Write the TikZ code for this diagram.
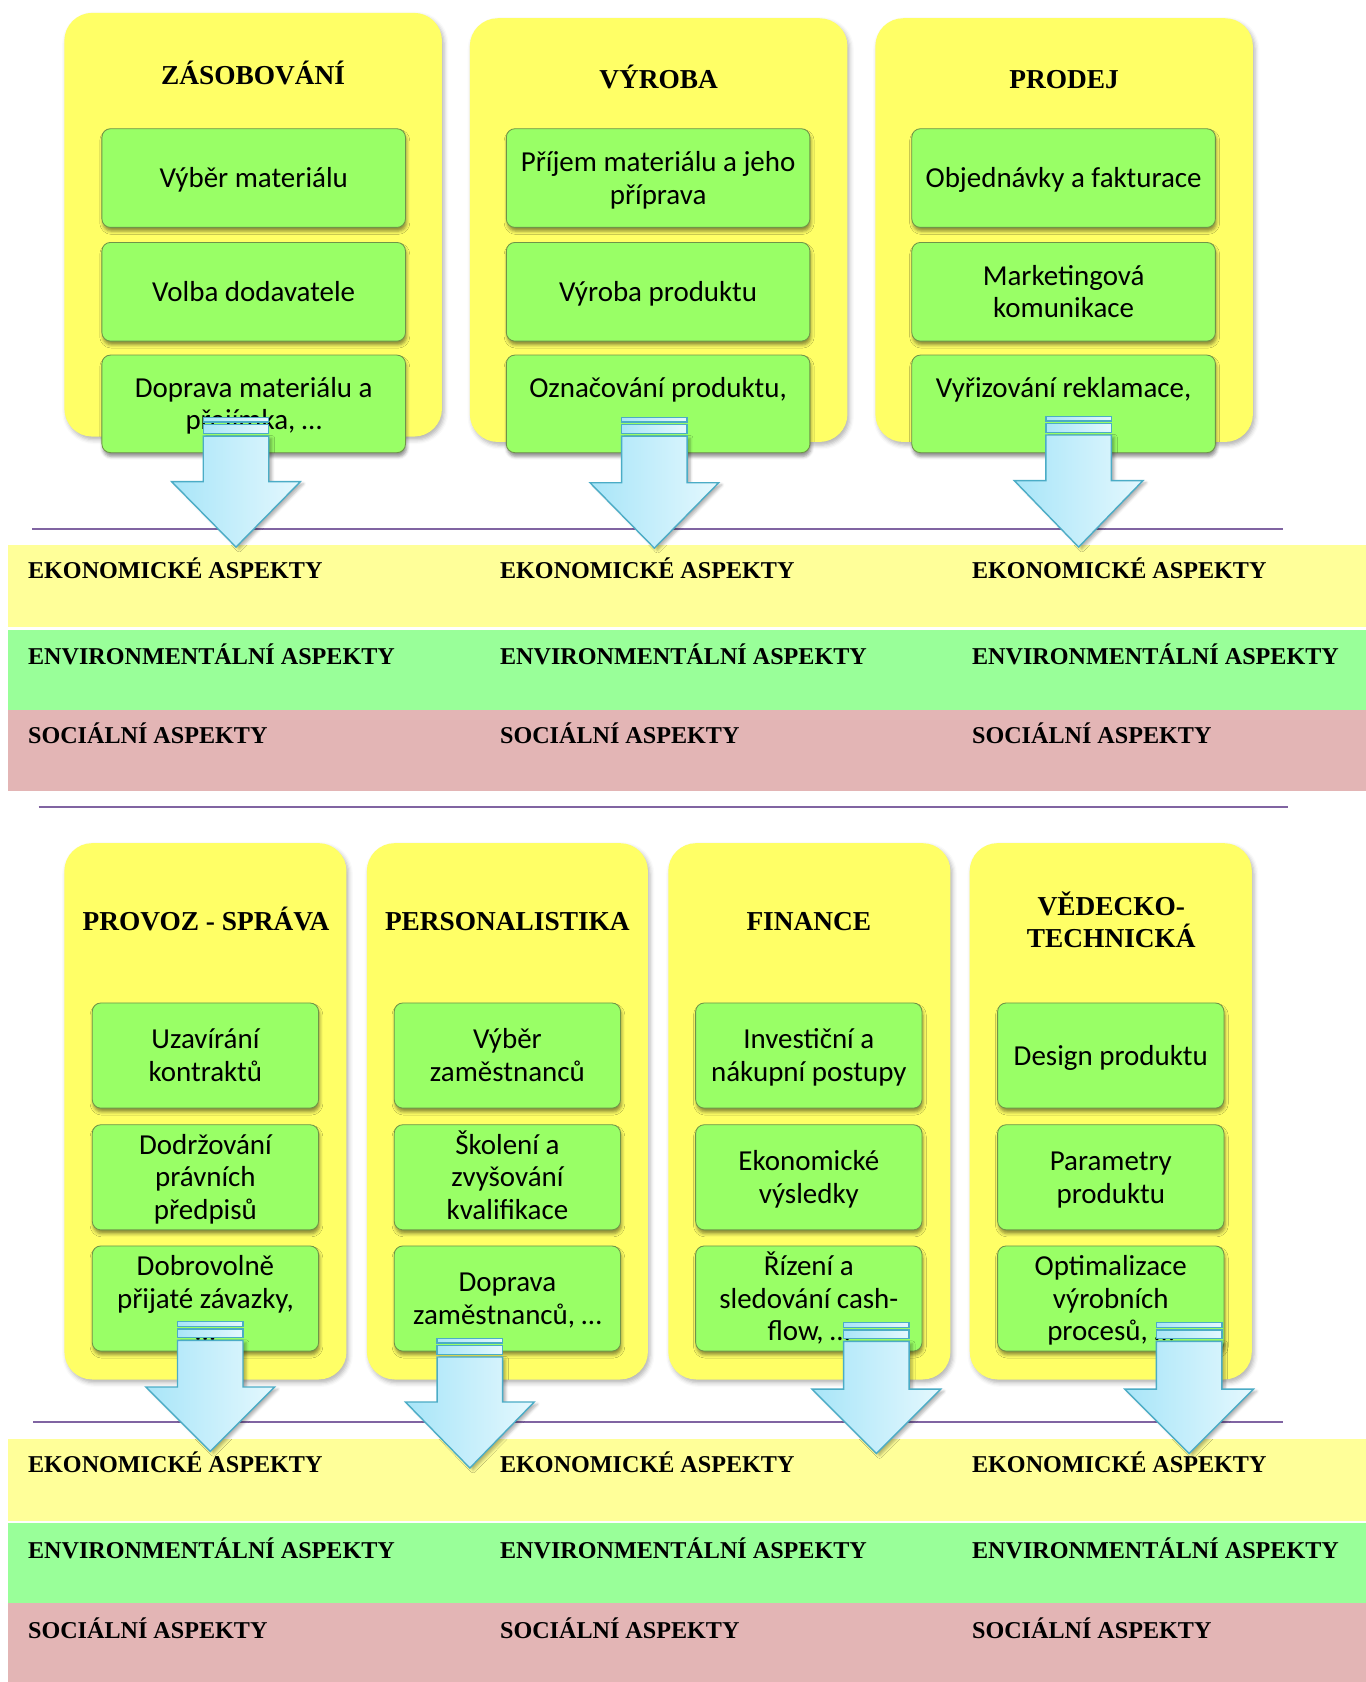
\documentclass[tikz,border=0pt]{standalone}
\usepackage{fontspec}
\setmainfont{Liberation Serif}
\newfontfamily\bodyfont{Carlito}
\usetikzlibrary{shadows.blur}

\definecolor{panelyellow}{HTML}{FFFF66}
\definecolor{boxgreen}{HTML}{99FF66}
\definecolor{boxedge}{HTML}{6F9448}
\definecolor{bandyellow}{HTML}{FFFF99}
\definecolor{bandgreen}{HTML}{99FF99}
\definecolor{bandpink}{HTML}{E3B5B5}
\definecolor{ruleviolet}{HTML}{8064A2}
\definecolor{arrowedge}{HTML}{4BACC6}
\definecolor{arrowdeep}{HTML}{A8E5F8}
\definecolor{arrowpale}{HTML}{E4F8FE}

% strut giving every text line the same height and depth
\newcommand\ls{\rule[-6.25pt]{0pt}{30.5pt}}

% block arrow: #1 centre x, #2 top of the stripes, #3 shoulder y, #4 tip y
\newcommand\flowarrow[4]{%
  \path[arrowpart] (#1-30.5,#2) rectangle (#1+30.5,#2+4.5);
  \path[arrowpart] (#1-30.5,#2+7) rectangle (#1+30.5,#2+15);
  \path[arrowpart,arrowshadow] (#1-30.5,#2+17.5) -- (#1-30.5,#3) -- (#1-60,#3)
     -- (#1,#4) -- (#1+60,#3) -- (#1+30.5,#3) -- (#1+30.5,#2+17.5) -- cycle;
}

\tikzset{
  panel/.style={fill=panelyellow, rounded corners=26pt, inner sep=0pt,
    blur shadow={shadow xshift=2pt, shadow yshift=-3pt, shadow opacity=30,
                 shadow blur radius=4pt}},
  item/.style={draw=boxedge, line width=0.8pt, fill=boxgreen, rounded corners=8pt,
    inner sep=0pt, align=center, minimum width=283pt,
    font=\bodyfont\fontsize{27}{30.5}\selectfont,
    blur shadow={shadow xshift=1pt, shadow yshift=-3.5pt, shadow opacity=45,
                 shadow blur radius=3pt}},
  narrowitem/.style={item, minimum width=211pt, minimum height=98pt},
  head/.style={font=\fontsize{25.5}{30}\selectfont\bfseries, anchor=base, inner sep=0pt},
  bandtext/.style={font=\fontsize{22.5}{27}\selectfont\bfseries, anchor=base west, inner sep=0pt},
  band/.style={inner sep=0pt, anchor=north west, minimum width=1265.5pt},
  divider/.style={draw=ruleviolet, line width=2pt},
  arrowpart/.style={draw=arrowedge, line width=1.3pt, left color=arrowdeep,
    right color=arrowpale, line join=miter},
  arrowshadow/.style={blur shadow={shadow xshift=3pt, shadow yshift=-2pt,
    shadow opacity=30, shadow blur radius=2.5pt}},
}

\begin{document}
\begin{tikzpicture}[x=1pt, y=-1pt]
\useasboundingbox (0,0) rectangle (1273,1568);

% ---------- aspect bands ----------
\node[band, fill=bandyellow, minimum height=76pt] (ekoA) at (7.5,508) {};
\node[band, fill=bandgreen,  minimum height=75pt] (envA) at (7.5,587) {};
\node[band, fill=bandpink,   minimum height=75pt] (socA) at (7.5,662) {};
\node[band, fill=bandyellow, minimum height=77pt] (ekoB) at (7.5,1341) {};
\node[band, fill=bandgreen,  minimum height=74pt] (envB) at (7.5,1420) {};
\node[band, fill=bandpink,   minimum height=74pt] (socB) at (7.5,1494) {};

\foreach \x [count=\i] in {26,466,906} {
  \node[bandtext] (ekoA\i) at (\x,539.4) {EKONOMICKÉ ASPEKTY};
  \node[bandtext] (envA\i) at (\x,619)   {ENVIRONMENTÁLNÍ ASPEKTY};
  \node[bandtext] (socA\i) at (\x,693.4) {SOCIÁLNÍ ASPEKTY};
  \node[bandtext] (ekoB\i) at (\x,1372.4) {EKONOMICKÉ ASPEKTY};
  \node[bandtext] (envB\i) at (\x,1452.4) {ENVIRONMENTÁLNÍ ASPEKTY};
  \node[bandtext] (socB\i) at (\x,1527.4) {SOCIÁLNÍ ASPEKTY};
}

% ---------- divider lines ----------
\coordinate (d1a) at (30,493);   \coordinate (d1b) at (1196,493);
\coordinate (d2a) at (36,752);   \coordinate (d2b) at (1201,752);
\coordinate (d3a) at (31,1326);  \coordinate (d3b) at (1196,1326);
\draw[divider] (d1a) -- (d1b);
\draw[divider] (d2a) -- (d2b);
\draw[divider] (d3a) -- (d3b);

% ---------- upper departments ----------
\node[panel, minimum width=352pt, minimum height=395pt] (zas) at (236,209.5) {};
\node[panel, minimum width=352pt, minimum height=395pt] (vyr) at (614,214.5) {};
\node[panel, minimum width=352pt, minimum height=395pt] (pro) at (992,214.5) {};

\node[head] (zasT) at (236,78.9) {ZÁSOBOVÁNÍ};
\node[head] (vyrT) at (614,82.3) {VÝROBA};
\node[head] (proT) at (992,82.3) {PRODEJ};

\node[item, minimum height=92pt] (zas1) at (236.5,166)   {\ls Výběr materiálu};
\node[item, minimum height=92pt] (zas2) at (236.5,272)   {\ls Volba dodavatele};
\node[item, minimum height=91pt] (zas3) at (236.5,376.5) {\ls Doprava materiálu a\\\ls přejímka, …};

\node[item, minimum height=92pt] (vyr1) at (613.5,166)   {\ls Příjem materiálu a jeho\\\ls příprava};
\node[item, minimum height=92pt] (vyr2) at (613.5,272)   {\ls Výroba produktu};
\node[item, minimum height=91pt] (vyr3) at (613.5,376.5) {\ls Označování produktu,\\\ls …};

\node[item, minimum height=92pt] (pro1) at (991.5,166)   {\ls Objednávky a fakturace};
\node[item, minimum height=92pt] (pro2) at (991.5,272)   {\ls Marketingová\\\ls komunikace};
\node[item, minimum height=91pt] (pro3) at (991.5,376.5) {\ls Vyřizování reklamace,\\\ls …};

% ---------- lower departments ----------
\node[panel, minimum width=263pt, minimum height=500pt] (spr) at (191.5,1036) {};
\node[panel, minimum width=262pt, minimum height=500pt] (per) at (473,1036) {};
\node[panel, minimum width=263pt, minimum height=500pt] (fin) at (754.5,1036) {};
\node[panel, minimum width=263pt, minimum height=500pt] (ved) at (1035.5,1036) {};

\node[head] (sprT) at (192,867.3) {PROVOZ - SPRÁVA};
\node[head] (perT) at (473,867.3) {PERSONALISTIKA};
\node[head] (finT) at (754,867.3) {FINANCE};
\node[head] (vedT) at (1036,853.3) {VĚDECKO-};
\node[head] (vedU) at (1036,883.3) {TECHNICKÁ};

\node[narrowitem] (spr1) at (191.5,984)    {\ls Uzavírání\\\ls kontraktů};
\node[narrowitem] (spr2) at (191.5,1097.5) {\ls Dodržování\\\ls právních\\\ls předpisů};
\node[narrowitem] (spr3) at (191.5,1210.5) {\ls Dobrovolně\\\ls přijaté závazky,\\\ls …};

\node[narrowitem] (per1) at (473,984)    {\ls Výběr\\\ls zaměstnanců};
\node[narrowitem] (per2) at (473,1097.5) {\ls Školení a\\\ls zvyšování\\\ls kvalifikace};
\node[narrowitem] (per3) at (473,1210.5) {\ls Doprava\\\ls zaměstnanců, …};

\node[narrowitem] (fin1) at (754,984)    {\ls Investiční a\\\ls nákupní postupy};
\node[narrowitem] (fin2) at (754,1097.5) {\ls Ekonomické\\\ls výsledky};
\node[narrowitem] (fin3) at (754,1210.5) {\ls Řízení a\\\ls sledování cash-\\\ls flow, …};

\node[narrowitem] (ved1) at (1035.5,984)    {\ls Design produktu};
\node[narrowitem] (ved2) at (1035.5,1097.5) {\ls Parametry\\\ls produktu};
\node[narrowitem] (ved3) at (1035.5,1210.5) {\ls Optimalizace\\\ls výrobních\\\ls procesů, …};

% ---------- block arrows into the aspect bands ----------
\flowarrow{220}{389}{449}{510}
\flowarrow{610}{389}{450}{511}
\flowarrow{1005.5}{388}{448}{510}
\flowarrow{196}{1232}{1293}{1353}
\flowarrow{438}{1247.5}{1307}{1368.5}
\flowarrow{817}{1233}{1295}{1355}
\flowarrow{1108.5}{1233}{1295}{1355}
\end{tikzpicture}
\end{document}
